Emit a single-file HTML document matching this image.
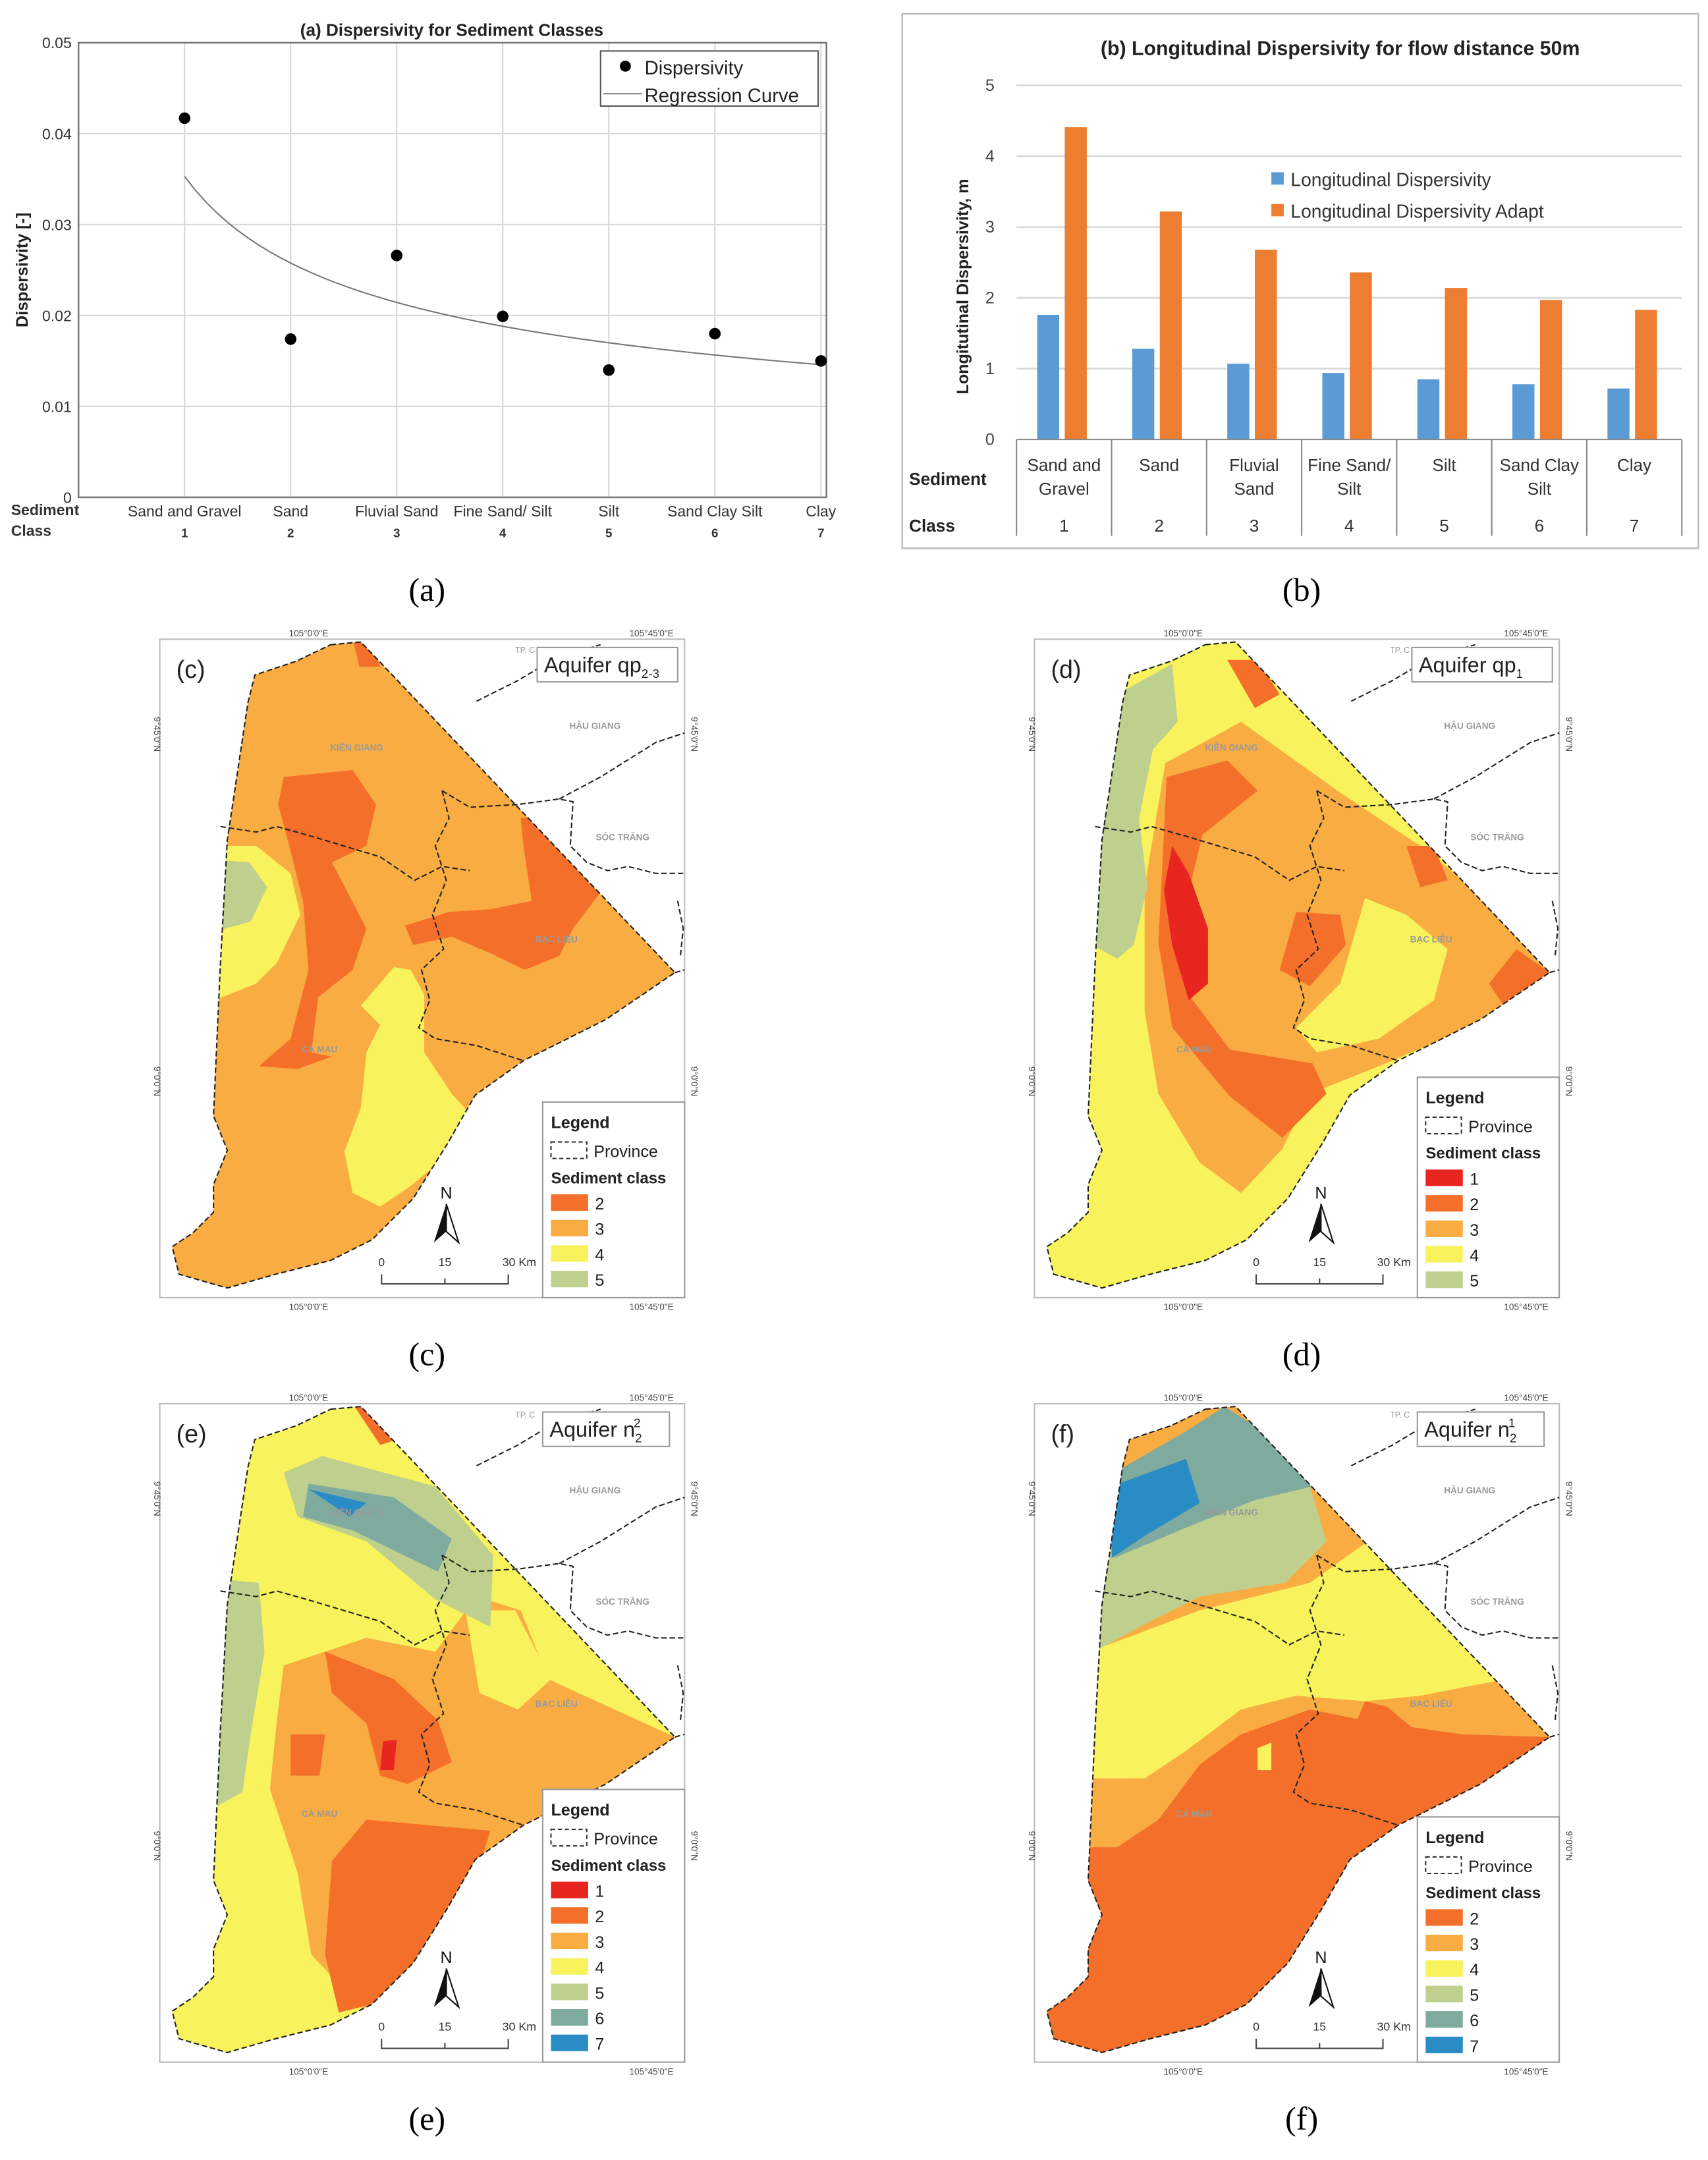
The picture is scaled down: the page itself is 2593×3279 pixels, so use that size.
<!DOCTYPE html>
<html><head><meta charset="utf-8"><style>
html,body{margin:0;padding:0;background:#fff}
svg{display:block}
text{font-family:"Liberation Sans",sans-serif}
</style></head><body>
<svg id="root" xmlns="http://www.w3.org/2000/svg" width="2593" height="3279" viewBox="0 0 1240 1568">
<rect width="1240" height="1568" fill="#fff"/>
<g id="chartA"></g>
<g id="chartB"></g>
<g id="maps"></g>
<g font-family="Liberation Serif" font-size="24" text-anchor="middle" fill="#000">
<text x="310" y="436" style="font-family:'Liberation Serif',serif">(a)</text>
<text x="945" y="436" style="font-family:'Liberation Serif',serif">(b)</text>
<text x="310" y="991" style="font-family:'Liberation Serif',serif">(c)</text>
<text x="945" y="991" style="font-family:'Liberation Serif',serif">(d)</text>
<text x="310" y="1546" style="font-family:'Liberation Serif',serif">(e)</text>
<text x="945" y="1546" style="font-family:'Liberation Serif',serif">(f)</text>
</g>
</svg>
<script>
// ---- Chart A data ----
const aCategories = ["Sand and Gravel","Sand","Fluvial Sand","Fine Sand/ Silt","Silt","Sand Clay Silt","Clay"];
const aClasses = [1,2,3,4,5,6,7];
const aValues = [0.0417,0.0174,0.0266,0.0199,0.0140,0.0180,0.0150];
const aYTicks = [0,0.01,0.02,0.03,0.04,0.05];
const aYTickLabels = ["0","0.01","0.02","0.03","0.04","0.05"];
const aRegCoefA = [0.0353];
const aRegExpB = [-0.454];
// ---- Chart B data ----
const bCategories = [["Sand and","Gravel"],["Sand"],["Fluvial","Sand"],["Fine Sand/","Silt"],["Silt"],["Sand Clay","Silt"],["Clay"]];
const bClasses = ["1","2","3","4","5","6","7"];
const bLongDisp = [1.76,1.28,1.07,0.94,0.85,0.78,0.72];
const bLongDispAdapt = [4.41,3.22,2.68,2.36,2.14,1.97,1.83];
const bYTicks = [0,1,2,3,4,5];

const NS="http://www.w3.org/2000/svg";
function mk(parent,tag,attrs,txt){const e=document.createElementNS(NS,tag);for(const k in attrs)e.setAttribute(k,attrs[k]);if(txt!==undefined)e.textContent=txt;parent.appendChild(e);return e;}

// ===== Chart A =====
(function(){
const g=document.getElementById('chartA');
const L=57,R=600,T=31,B=361;
const x=v=>L+v*77, y=v=>B-(v/0.05)*(B-T);
mk(g,'rect',{x:L,y:T,width:R-L,height:B-T,fill:'#fff',stroke:'#888','stroke-width':1});
aYTicks.forEach((t,i)=>{
 const gl=mk(g,'line',{x1:L,x2:R,y1:y(t),y2:y(t),stroke:'#d8d8d8','stroke-width':1});
 
 
 const tl=mk(g,'text',{x:L-5,y:y(t)+4,'font-size':11,'text-anchor':'end',fill:'#333'},aYTickLabels[i]);
 
 
});
aClasses.forEach((c,i)=>{
 const gl=mk(g,'line',{x1:x(c),x2:x(c),y1:T,y2:B,stroke:'#d8d8d8','stroke-width':1});
 
 
 const t1=mk(g,'text',{x:x(c),y:375,'font-size':11,'text-anchor':'middle',fill:'#333'},aCategories[i]);
 
 
 const t2=mk(g,'text',{x:x(c),y:390,'font-size':9,'font-weight':'bold','text-anchor':'middle',fill:'#333'},String(c));
 
 
});
mk(g,'rect',{x:L,y:T,width:R-L,height:B-T,fill:'none',stroke:'#777','stroke-width':1.2});
let d='';
for(let k=0;k<=60;k++){const xv=1+6*k/60;const yv=aRegCoefA[0]*Math.pow(xv,aRegExpB[0]);d+=(k?'L':'M')+x(xv).toFixed(2)+','+y(yv).toFixed(2);}
const cv=mk(g,'path',{d:d,fill:'none',stroke:'#777','stroke-width':1});


aValues.forEach((v,i)=>{
 const p=mk(g,'circle',{cx:x(aClasses[i]),cy:y(v),r:4.2,fill:'#000'});
 
 
});
const t=mk(g,'text',{x:328,y:26,'font-size':12.5,'font-weight':'bold','text-anchor':'middle',fill:'#222'},'(a) Dispersivity for Sediment Classes');

const yl=mk(g,'text',{x:0,y:0,'font-size':12,'font-weight':'bold','text-anchor':'middle',fill:'#222',transform:'translate(20,196) rotate(-90)'},'Dispersivity [-]');

const s1=mk(g,'text',{x:8,y:374,'font-size':11,'font-weight':'bold',fill:'#333'},'Sediment');

const s2=mk(g,'text',{x:8,y:389,'font-size':11,'font-weight':'bold',fill:'#333'},'Class');

const lg=mk(g,'g',{});
mk(lg,'rect',{x:436,y:37,width:158,height:40,fill:'#fff',stroke:'#555','stroke-width':1});
mk(lg,'circle',{cx:454,cy:48,r:4,fill:'#000'});
mk(lg,'text',{x:468,y:54,'font-size':14,fill:'#222'},'Dispersivity');
mk(lg,'line',{x1:438,x2:466,y1:68,y2:68,stroke:'#777'});
mk(lg,'text',{x:468,y:74,'font-size':14,fill:'#222'},'Regression Curve');
})();

// ===== Chart B =====
(function(){
const g=document.getElementById('chartB');
mk(g,'rect',{x:655,y:10,width:578,height:388,fill:'#fff',stroke:'#bbb','stroke-width':1.2});
const L=738,R=1221,B=319,T=62,cw=(R-L)/7;
const y=v=>B-v*(B-T)/5;
bYTicks.forEach(t=>{
 if(t>0){const gl=mk(g,'line',{x1:L,x2:R,y1:y(t),y2:y(t),stroke:'#d9d9d9','stroke-width':1.3});
 }
 const tl=mk(g,'text',{x:722,y:y(t)+4,'font-size':12,'text-anchor':'end',fill:'#444'},String(t));
 
});
bLongDisp.forEach((v,i)=>{
 const x0=L+i*cw;
 const b1=mk(g,'rect',{x:x0+15,y:y(v),width:16,height:B-y(v),fill:'#5b9bd5'});
 
 const b2=mk(g,'rect',{x:x0+35,y:y(bLongDispAdapt[i]),width:16,height:B-y(bLongDispAdapt[i]),fill:'#ed7d31'});
 
 bCategories[i].forEach((ln,j)=>{
  const t=mk(g,'text',{x:x0+cw/2,y:342+j*17,'font-size':12.5,'text-anchor':'middle',fill:'#333'},ln);
  
 });
 const c=mk(g,'text',{x:x0+cw/2,y:386,'font-size':12.5,'text-anchor':'middle',fill:'#333'},bClasses[i]);
 
});
mk(g,'line',{x1:L,x2:R,y1:B,y2:B,stroke:'#888','stroke-width':1});
for(let i=0;i<=7;i++){mk(g,'line',{x1:L+i*cw,x2:L+i*cw,y1:B,y2:389,stroke:'#888','stroke-width':1});}
const t=mk(g,'text',{x:973,y:40,'font-size':14.5,'font-weight':'bold','text-anchor':'middle',fill:'#222'},'(b) Longitudinal Dispersivity for flow distance 50m');

const yl=mk(g,'text',{x:0,y:0,'font-size':12,'font-weight':'bold','text-anchor':'middle',fill:'#222',transform:'translate(703,208) rotate(-90)'},'Longitutinal Dispersivity, m');

const s1=mk(g,'text',{x:660,y:352,'font-size':12.5,'font-weight':'bold',fill:'#222'},'Sediment');

const s2=mk(g,'text',{x:660,y:386,'font-size':12.5,'font-weight':'bold',fill:'#222'},'Class');

const lg=mk(g,'g',{});
mk(lg,'rect',{x:923,y:125,width:9,height:9,fill:'#5b9bd5'});
mk(lg,'text',{x:937,y:135,'font-size':13.5,fill:'#333'},'Longitudinal Dispersivity');
mk(lg,'rect',{x:923,y:148,width:9,height:9,fill:'#ed7d31'});
mk(lg,'text',{x:937,y:158,'font-size':13.5,fill:'#333'},'Longitudinal Dispersivity Adapt');
})();

// ===== Maps =====
const COLORS={1:'#e8251f',2:'#f4702a',3:'#f9ac42',4:'#f8f25c',5:'#bfd08e',6:'#7fab9f',7:'#2a8cc4'};
const OUTLINE=[[124,4],[146,2],[374,242],[324,276],[264,306],[229,331],[209,366],[184,406],[154,436],[124,451],[84,461],[49,471],[14,461],[9,441],[24,431],[39,416],[39,396],[49,371],[39,346],[44,236],[49,146],[64,46],[69,26],[99,16]];
const pts=a=>a.map(p=>p.join(',')).join(' ');
const panels=[
 {id:'c',ox:116,oy:464,title:'qp',sub:'2-3',sup:'',base:3,classes:[2,3,4,5],legY:336,blobs:[
  [4,[[44,150],[70,150],[95,170],[102,200],[85,235],[70,250],[40,262],[40,150]]],
  [5,[[40,160],[65,162],[78,180],[66,205],[40,212]]],
  [4,[[170,238],[182,240],[192,258],[192,300],[212,330],[232,352],[212,372],[182,397],[160,412],[140,402],[134,372],[146,340],[150,300],[160,280],[146,266]]],
  [2,[[90,100],[140,95],[157,120],[150,150],[125,162],[150,210],[140,240],[115,260],[110,300],[125,303],[100,312],[72,310],[95,290],[108,240],[104,190],[94,150],[86,120]]],
  [2,[[262,130],[300,124],[332,168],[300,210],[290,230],[265,240],[240,228],[212,216],[184,222],[178,208],[210,198],[240,196],[270,190],[264,150]]],
  [2,[[140,0],[155,5],[160,20],[145,20]]]
 ]},
 {id:'d',ox:751,oy:464,title:'qp',sub:'1',sup:'',base:4,classes:[1,2,3,4,5],legY:318,blobs:[
  [3,[[95,90],[150,60],[220,110],[280,150],[330,190],[374,242],[320,280],[250,310],[200,330],[180,370],[150,402],[120,380],[90,330],[80,270],[80,180]]],
  [4,[[240,188],[270,200],[300,225],[290,262],[250,290],[205,300],[190,282],[222,250]]],
  [5,[[60,40],[100,18],[104,60],[86,80],[76,130],[82,180],[72,222],[60,232],[42,222],[44,100]]],
  [4,[[110,30],[140,10],[160,40],[130,60],[110,70]]],
  [2,[[96,100],[140,88],[162,110],[122,142],[108,200],[112,258],[142,298],[202,308],[212,330],[180,362],[142,332],[100,282],[90,220]]],
  [1,[[100,150],[112,170],[126,210],[126,250],[112,262],[100,222],[94,182]]],
  [2,[[190,198],[222,200],[226,222],[200,252],[178,240]]],
  [2,[[270,150],[290,150],[300,175],[280,180]]],
  [2,[[140,15],[162,15],[178,40],[160,50]]],
  [2,[[350,225],[374,242],[340,265],[330,250]]]
 ]},
 {id:'e',ox:116,oy:1019,title:'n',sub:'2',sup:'2',base:4,classes:[1,2,3,4,5,6,7],legY:280,blobs:[
  [3,[[90,190],[150,170],[200,180],[230,140],[262,150],[282,200],[374,242],[324,276],[264,306],[240,330],[200,400],[150,442],[110,400],[100,340],[80,280],[85,230]]],
  [4,[[222,150],[258,150],[284,200],[260,222],[232,210]]],
  [5,[[118,38],[200,60],[242,110],[240,162],[200,142],[150,100],[100,82],[90,50]]],
  [6,[[108,58],[170,68],[212,98],[202,122],[140,92],[104,82]]],
  [7,[[108,62],[150,72],[138,82]]],
  [5,[[50,128],[72,130],[76,180],[66,240],[60,282],[42,292],[42,150]]],
  [2,[[120,180],[170,200],[202,230],[212,260],[180,276],[160,270],[150,232],[125,210]]],
  [2,[[150,302],[240,310],[230,342],[200,392],[170,432],[130,442],[120,400],[125,332]]],
  [2,[[95,240],[120,240],[116,270],[95,270]]],
  [1,[[162,245],[172,244],[170,266],[160,266]]],
  [2,[[140,0],[155,5],[175,25],[160,30]]]
 ]},
 {id:'f',ox:751,oy:1019,title:'n',sub:'2',sup:'1',base:2,classes:[2,3,4,5,6,7],legY:300,blobs:[
  [3,[[40,0],[200,0],[374,242],[310,240],[240,230],[200,222],[150,240],[120,262],[90,302],[60,322],[36,322]]],
  [4,[[40,180],[120,150],[200,130],[242,100],[300,160],[342,200],[280,212],[240,216],[190,212],[150,222],[110,252],[80,272],[40,272]]],
  [2,[[240,216],[256,220],[280,240],[300,250],[260,260],[230,240]]],
  [4,[[162,250],[172,246],[172,266],[162,266]]],
  [5,[[40,90],[100,50],[150,40],[200,60],[212,100],[182,130],[120,140],[80,160],[40,182]]],
  [6,[[58,50],[110,20],[138,2],[182,30],[202,60],[160,70],[110,90],[58,112]]],
  [7,[[56,60],[110,40],[120,72],[80,96],[56,112]]]
 ]}
];
const mapsG=document.getElementById('maps');
panels.forEach(P=>{
 const g=mk(mapsG,'g',{transform:`translate(${P.ox},${P.oy})`});
 
 
 mk(g,'rect',{x:0,y:0,width:381,height:478,fill:'#fff',stroke:'#bbb','stroke-width':1});
 const cp=mk(g,'clipPath',{id:'clip'+P.id});
 mk(cp,'polygon',{points:pts(OUTLINE)});
 const fg=mk(g,'g',{'clip-path':`url(#clip${P.id})`});
 mk(fg,'rect',{x:0,y:0,width:381,height:478,fill:COLORS[P.base]});
 P.blobs.forEach(b=>{
  const pl=mk(fg,'polygon',{points:pts(b[1]),fill:COLORS[b[0]]});
  
  
 });
 mk(g,'polygon',{points:pts(OUTLINE),fill:'none',stroke:'#222','stroke-width':1,'stroke-dasharray':'4,2'});
 // province boundaries
 const dash={fill:'none',stroke:'#222','stroke-width':1,'stroke-dasharray':'4,2'};
 mk(g,'polyline',Object.assign({points:'44,136 70,140 85,136 110,143 160,158 185,175 205,165 225,168'},dash));
 mk(g,'polyline',Object.assign({points:'205,110 210,130 200,150 208,175 198,200 206,225 190,240 196,262 188,282 200,290 230,295 264,306'},dash));
 mk(g,'polyline',Object.assign({points:'205,110 225,122 260,120 290,116 300,118 298,150 310,162 325,168 340,165 360,170 381,170'},dash));
 mk(g,'polyline',Object.assign({points:'230,45 260,30 280,18 300,10 320,4'},dash));
 mk(g,'polyline',Object.assign({points:'290,116 320,100 360,75 381,68'},dash));
 mk(g,'polyline',Object.assign({points:'374,242 381,240'},dash));
 mk(g,'polyline',Object.assign({points:'376,190 380,210 378,230'},dash));
 // labels
 const lab=(x,y,s)=>{const t=mk(g,'text',{x:x,y:y,'font-size':6.5,fill:'#999','font-weight':'bold','text-anchor':'middle'},s);};
 lab(143,81,'KIÊN GIANG');lab(316,65,'HẬU GIANG');lab(336,146,'SÓC TRĂNG');lab(288,220,'BẠC LIÊU');lab(116,300,'CÀ MAU');
 mk(g,'text',{x:258,y:10,'font-size':6,fill:'#999'},'TP. C');
 // coords
 const cs={'font-size':6.5,fill:'#444','text-anchor':'middle'};
 mk(g,'text',Object.assign({x:108,y:-2},cs),"105°0'0\"E");
 mk(g,'text',Object.assign({x:357,y:-2},cs),"105°45'0\"E");
 mk(g,'text',Object.assign({x:108,y:487},cs),"105°0'0\"E");
 mk(g,'text',Object.assign({x:357,y:487},cs),"105°45'0\"E");
 [[69,"9°45'0\"N"],[321,"9°0'0\"N"]].forEach(a=>{
  mk(g,'text',Object.assign({x:0,y:0,transform:`translate(-4,${a[0]}) rotate(90)`},cs),a[1]);
  mk(g,'text',Object.assign({x:0,y:0,transform:`translate(386,${a[0]}) rotate(90)`},cs),a[1]);
 });
 const pl=mk(g,'text',{x:12,y:28,'font-size':18,fill:'#222'},'('+P.id+')');
 
 // title box
 const tb=mk(g,'g',{});
 const tw=P.id==='c'||P.id==='d'?102:92, tx=P.id==='c'?274:(P.id==='d'?274:278);
 mk(tb,'rect',{x:tx,y:6,width:tw,height:25,fill:'#fff',stroke:'#999'});
 const tt=mk(tb,'text',{x:tx+5,y:24,'font-size':15.5,fill:'#222'});
 tt.appendChild(document.createTextNode('Aquifer '+P.title));
 if(P.sub){const s=mk(tt,'tspan',{'font-size':9,dy:4},P.sub);}
 if(P.sup){mk(tt,'tspan',{'font-size':9,dy:-11,dx:-6},P.sup);}
 // legend
 const lg=mk(g,'g',{});
 const ly=P.legY;
 mk(lg,'rect',{x:278,y:ly,width:103,height:478-ly,fill:'#fff',stroke:'#999'});
 mk(lg,'text',{x:284,y:ly+19,'font-size':12,'font-weight':'bold',fill:'#222'},'Legend');
 mk(lg,'rect',{x:284,y:ly+29,width:26,height:12,fill:'none',stroke:'#333','stroke-dasharray':'3,2'});
 mk(lg,'text',{x:315,y:ly+40,'font-size':12,fill:'#222'},'Province');
 mk(lg,'text',{x:284,y:ly+59,'font-size':11.5,'font-weight':'bold',fill:'#222'},'Sediment class');
 P.classes.forEach((c,i)=>{
  const yy=ly+67+i*18.5;
  const sw=mk(lg,'rect',{x:284,y:yy,width:27,height:12,fill:COLORS[c]});
  
  mk(lg,'text',{x:316,y:yy+11,'font-size':12,fill:'#222'},String(c));
 });
 // scale bar & north arrow
 const sb=mk(g,'g',{});
 mk(sb,'polyline',{points:'161,461 161,468 253,468 253,461',fill:'none',stroke:'#444'});
 mk(sb,'line',{x1:207,x2:207,y1:464,y2:468,stroke:'#444'});
 mk(sb,'text',{x:161,y:455,'font-size':8.5,fill:'#333','text-anchor':'middle'},'0');
 mk(sb,'text',{x:207,y:455,'font-size':8.5,fill:'#333','text-anchor':'middle'},'15');
 mk(sb,'text',{x:261,y:455,'font-size':8.5,fill:'#333','text-anchor':'middle'},'30 Km');
 const na=mk(g,'g',{});
 mk(na,'text',{x:208,y:406,'font-size':12,fill:'#111','text-anchor':'middle'},'N');
 mk(na,'polygon',{points:'208,410 199,438 208,430',fill:'#111'});
 mk(na,'polygon',{points:'208,410 217,438 208,430',fill:'#fff',stroke:'#111','stroke-width':1});
});
</script>
</body></html>
